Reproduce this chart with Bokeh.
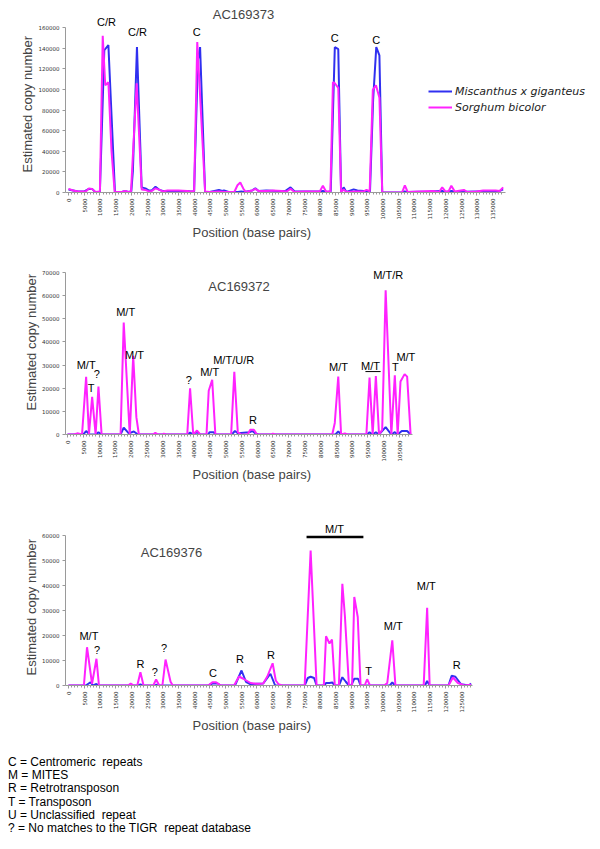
import math
from bokeh.plotting import figure
from bokeh.models import (FixedTicker, BasicTickFormatter, Label, Legend, LegendItem,
                          Range1d, Div, Title)
from bokeh.layouts import column
from bokeh.embed import file_html
from bokeh.resources import INLINE

# ---------------- DATA ----------------
# AC169373
pos_373_mis = [0, 1500, 3000, 5000, 6500, 7500, 8500, 10000, 11400, 12700, 14800, 17000, 18000, 19000,
               20000, 20500, 21800, 23300, 24500, 25500, 26500, 27700, 29000, 30000, 32000, 35000, 37800,
               38800, 40000, 41200, 41900, 43500, 45000, 47900, 49000, 49500, 51000, 54000, 55000, 56000,
               58500, 59500, 60500, 63000, 66000, 69000, 70700, 72000, 75000, 80000, 81000, 82500, 83500,
               84800, 85900, 86800, 87600, 88500, 90800, 92000, 94000, 95000, 96000, 97000, 98000, 99000,
               99900, 106000, 107000, 108000, 115000, 119000, 120000, 122000, 123000, 130000, 137000, 138400]
cn_373_mis = [3000, 2000, 1000, 1000, 3500, 3500, 500, 500, 138000, 143000, 0, 500, 1500, 500,
              1000, 21000, 141000, 5000, 4000, 2000, 2000, 5500, 2500, 1500, 1500, 1500, 1500,
              1000, 1000, 128000, 141000, 0, 500, 2500, 1500, 2000, 500, 500, 1000, 500,
              2000, 4000, 1500, 2000, 1500, 1500, 5000, 1000, 1000, 1000, 1500, 500, 1000,
              141000, 139000, 0, 5000, 500, 3000, 2000, 1500, 1500, 1000, 90000, 141000, 133000,
              0, 0, 1000, 500, 1000, 1500, 500, 1500, 500, 1000, 1000, 3000]
pos_373_sor = [0, 1500, 3000, 5500, 6500, 7500, 8500, 10000, 10900, 11700, 12700, 13700, 14700, 17000,
               18000, 19000, 19900, 21700, 23300, 24500, 25500, 26500, 27700, 29000, 30000, 31500, 35000,
               37800, 38800, 40000, 41000, 43500, 45000, 48000, 50000, 52800, 53800, 54700, 55800, 56500,
               58500, 59500, 60500, 63000, 65000, 68000, 69500, 70700, 72000, 75000, 78000, 80000, 81000,
               82000, 83400, 84200, 84800, 85900, 86800, 87600, 88500, 91000, 94000, 94900, 95900, 96900,
               97900, 99000, 99900, 106200, 107100, 108000, 112000, 116000, 118000, 119000, 120000, 121000,
               121900, 123000, 125900, 127000, 130000, 132000, 136000, 137300, 138400]
cn_373_sor = [3500, 2000, 1000, 1000, 4000, 3500, 500, 1000, 152000, 104000, 107000, 40000, 500, 500,
              1500, 500, 1000, 106000, 3000, 2500, 1000, 1500, 4000, 2500, 1000, 2000, 2000,
              1500, 1000, 1500, 146000, 1000, 500, 1000, 500, 500, 7000, 9700, 3000, 500,
              2000, 3500, 1500, 1500, 2000, 1500, 1000, 3500, 500, 1000, 1000, 1000, 6500,
              1000, 1000, 107000, 106000, 101500, 0, 3000, 500, 1000, 1000, 2500, 1000, 99600,
              104000, 92000, 0, 0, 7000, 500, 1000, 1500, 500, 5000, 1000, 1000,
              6500, 1000, 2500, 500, 1000, 2000, 2000, 1500, 5000]

# AC169372
pos_372_mis = [0, 5000, 5900, 7000, 9000, 9800, 10800, 16800, 17800, 19400, 21000, 22300, 38000, 38800,
               39800, 41000, 42000, 44500, 45000, 46200, 47000, 52000, 53000, 54000, 57500, 58500, 59500,
               60500, 84800, 85700, 86600, 94800, 95600, 96600, 97600, 98600, 100700, 102500, 103600,
               104500, 105800, 107500, 108600]
cn_372_mis = [0, 0, 1500, 0, 0, 1000, 0, 0, 3000, 500, 1300, 0, 0, 800,
              0, 1000, 0, 0, 1000, 1000, 0, 0, 1500, 500, 1000, 1500, 500,
              0, 0, 1300, 0, 0, 1000, 0, 1000, 0, 3200, 0, 1000,
              0, 1500, 1500, 0]
pos_372_sor = [0, 2000, 3100, 4600, 5900, 6800, 7800, 8900, 9800, 10800, 16800, 17800, 19700, 20800,
               21800, 22600, 27000, 27800, 28700, 30000, 30500, 31200, 37900, 38800, 39800, 41000, 42000,
               44000, 44700, 45800, 46800, 51800, 52800, 53900, 55000, 57000, 57800, 59000, 60000, 64500,
               65000, 65800, 83800, 84600, 85700, 86600, 87800, 88600, 94600, 95600, 96600, 97600, 98600,
               99600, 100700, 102500, 103600, 104500, 105400, 106700, 107500, 108600]
cn_372_sor = [0, 0, 500, 0, 24900, 0, 16300, 0, 20700, 0, 0, 48400, 0, 34000,
              7500, 0, 0, 700, 0, 0, 400, 0, 0, 20000, 0, 1700, 0,
              0, 18900, 23600, 0, 0, 27100, 1000, 0, 0, 2000, 2000, 0, 0,
              400, 0, 0, 5000, 25000, 0, 500, 0, 0, 24600, 0, 25300, 0,
              2000, 62300, 0, 25600, 0, 22900, 26100, 25000, 0]

# AC169376
pos_376_mis = [0, 5500, 7000, 7800, 8900, 9700, 22000, 22900, 23800, 27500, 27900, 28500, 44500, 45800,
               47500, 48500, 53000, 55100, 56500, 58000, 60000, 62000, 63300, 64300, 65800, 75200, 76200,
               77100, 78200, 79000, 81500, 82000, 83100, 84000, 84800, 86100, 87200, 88300, 89300, 90000,
               91000, 92200, 93000, 102300, 103100, 104000, 113500, 114200, 115000, 121000, 122000, 123200,
               125000, 127500, 128200]
cn_376_mis = [0, 0, 1300, 0, 600, 0, 0, 400, 0, 0, 300, 0, 0, 800,
              800, 0, 0, 6000, 1500, 500, 700, 800, 3000, 4700, 0, 0, 3000,
              3500, 3000, 0, 0, 1000, 1000, 1200, 0, 0, 3300, 1500, 0, 0,
              2700, 2700, 0, 0, 1200, 0, 0, 1800, 0, 0, 3900, 3500,
              500, 0, 800]
pos_376_sor = [0, 4900, 5900, 7500, 8900, 9700, 19000, 19800, 20800, 21900, 22900, 23900, 27000, 27900,
               28900, 29900, 30900, 32500, 33200, 44500, 45800, 47000, 48500, 52700, 54300, 55500, 58000,
               60000, 62000, 63300, 65000, 66000, 66900, 68000, 75200, 77100, 79000, 81300, 82000, 83100,
               83900, 84800, 86100, 87200, 88000, 89300, 90300, 91000, 92100, 93000, 94300, 95100, 96000,
               100500, 101500, 103100, 104100, 113100, 114200, 115000, 121000, 122400, 124000, 126000,
               128200]
cn_376_sor = [0, 0, 15300, 700, 10700, 0, 0, 800, 0, 0, 5300, 0, 0, 2400,
              0, 0, 10400, 1500, 0, 0, 1300, 1300, 0, 0, 3600, 2800, 1000,
              700, 800, 3600, 8900, 2000, 500, 0, 0, 54000, 0, 0, 19700, 16800,
              18400, 0, 0, 40700, 28000, 0, 0, 35400, 27400, 0, 0, 2500, 0,
              0, 1000, 18100, 0, 0, 31100, 0, 0, 3200, 1000, 0,
              300]

# annotations (text, position bp, copy-number level)
ann_373_text = ["C/R", "C/R", "C", "C", "C"]
ann_373_x = [12100, 22000, 40800, 84800, 98000]
ann_373_y = [165000, 156000, 156000, 150000, 148000]

ann_372_text = ["M/T", "T", "?", "M/T", "M/T", "?", "M/T", "M/T/U/R", "R", "M/T", "M/T", "M/T/R", "T", "M/T"]
ann_372_x = [5900, 7500, 9300, 18400, 21200, 38400, 45000, 52600, 58700, 85800, 95900, 101500, 103800, 107100]
ann_372_y = [30000, 20300, 26300, 53100, 34400, 23600, 27000, 32300, 6200, 29200, 29700, 68900, 29000, 33300]
underline_372_x0 = [94300]
underline_372_x1 = [99100]
underline_372_y = [27200]

ann_376_text = ["M/T", "?", "R", "?", "?", "C", "R", "R", "M/T", "T", "M/T", "M/T", "R"]
ann_376_x = [6500, 9100, 22900, 27500, 30400, 46000, 54600, 64500, 84700, 95600, 103400, 113900, 123600]
ann_376_y = [19700, 14400, 8500, 5400, 15200, 5200, 10500, 12100, 62800, 5800, 23700, 39800, 8100]
bar_376_x0 = [75800]
bar_376_x1 = [93900]
bar_376_y = [59400]

yticks_373 = [0, 20000, 40000, 60000, 80000, 100000, 120000, 140000, 160000]
yticks_372 = [0, 10000, 20000, 30000, 40000, 50000, 60000, 70000]
yticks_376 = [0, 10000, 20000, 30000, 40000, 50000, 60000]
xticks_373 = list(range(0, 140000, 5000))
xticks_372 = list(range(0, 110000, 5000))
xticks_376 = list(range(0, 130000, 5000))
xminor_373 = list(range(0, 139000, 1000))
xminor_372 = list(range(0, 109000, 1000))
xminor_376 = list(range(0, 129000, 1000))

series_names = ["Miscanthus x giganteus", "Sorghum bicolor"]
notes = ["C = Centromeric  repeats", "M = MITES", "R = Retrotransposon", "T = Transposon",
         "U = Unclassified  repeat", "? = No matches to the TIGR  repeat database"]

# ---------------- STYLE ----------------
BLUE = "#3030F0"
PINK = "#FF22FF"
FONT = "Liberation Sans"
W = 600


def make_panel(name, xr, xb, yr, yb, h, top, bottom, yticks, xticks, xminor,
               pm, cm, ps, cs, atext, ax, ay, name_xy, xlab_off, ylab_off):
    p = figure(width=W, height=h, x_range=Range1d(*xr), y_range=Range1d(*yr),
               output_backend="svg", toolbar_location=None,
               min_border_left=65, min_border_right=0, min_border_top=top,
               min_border_bottom=bottom)
    p.outline_line_color = None
    p.xgrid.visible = False
    p.ygrid.visible = False
    rb = p.line(pm, cm, line_color=BLUE, line_width=2)
    rp = p.line(ps, cs, line_color=PINK, line_width=2)
    for ax_ in (p.xaxis, p.yaxis):
        ax_.axis_line_color = "#9a9a9a"
        ax_.major_tick_line_color = "#9a9a9a"
        ax_.minor_tick_line_color = "#9a9a9a"
        ax_.major_tick_in = 0
        ax_.major_tick_out = 3
        ax_.minor_tick_in = 0
        ax_.minor_tick_out = 2
        ax_.major_label_text_font = "DejaVu Sans"
        ax_.major_label_text_font_size = "5.5px"
        ax_.major_label_text_color = "#333333"
        ax_.major_label_standoff = 3
    p.yaxis.bounds = yb
    p.xaxis.bounds = xb
    p.yaxis.ticker = FixedTicker(ticks=yticks)
    p.yaxis.formatter = BasicTickFormatter(use_scientific=False)
    p.yaxis.minor_tick_line_color = None
    p.xaxis.ticker = FixedTicker(ticks=xticks, minor_ticks=xminor)
    p.xaxis.formatter = BasicTickFormatter(use_scientific=False)
    p.xaxis.major_label_orientation = math.pi / 2
    for t, x, y in zip(atext, ax, ay):
        p.add_layout(Label(x=x, y=y, text=t, text_font=FONT, text_font_size="11px",
                           text_align="center", text_baseline="middle", text_color="#000000"))
    p.add_layout(Label(x=name_xy[0], y=name_xy[1], text=name, text_font=FONT,
                       text_font_size="13px", text_align="center", text_baseline="middle"))
    p.add_layout(Title(text="Position (base pairs)", text_font=FONT, text_font_size="13px",
                       text_font_style="normal", align="left", offset=xlab_off, standoff=1),
                 "below")
    p.add_layout(Title(text="Estimated copy number", text_font=FONT, text_font_size="13px",
                       text_font_style="normal", align="left", offset=ylab_off, standoff=2),
                 "left")
    return p, rb, rp


# panel 1: frame 65..600 px, 8..192 px
p1, rb1, rp1 = make_panel("AC169373", (-955, 169400), (-955, 139000), (0, 178500), (0, 160000),
                          245, 8, 53,
                          yticks_373, xticks_373, xminor_373,
                          pos_373_mis, cn_373_mis, pos_373_sor, cn_373_sor,
                          ann_373_text, ann_373_x, ann_373_y,
                          (55700, 172700), 127, 20)
legend = Legend(items=[LegendItem(label=series_names[0], renderers=[rb1]),
                       LegendItem(label=series_names[1], renderers=[rp1])],
                location=(363, 77), orientation="vertical")
legend.label_text_font = "DejaVu Sans"
legend.label_text_font_style = "italic"
legend.label_text_font_size = "11px"
legend.label_text_color = "#222222"
legend.glyph_width = 24
legend.glyph_height = 16
legend.label_height = 16
legend.label_standoff = 3
legend.padding = 0
legend.spacing = 0
legend.margin = 0
legend.border_line_alpha = 0
legend.background_fill_alpha = 0
p1.add_layout(legend, "center")

# panel 2: frame 65..600 px, 245..434 px
p2, rb2, rp2 = make_panel("AC169372", (-630, 168700), (-630, 109200), (0, 81700), (0, 70000),
                          239, 0, 50,
                          yticks_372, xticks_372, xminor_372,
                          pos_372_mis, cn_372_mis, pos_372_sor, cn_372_sor,
                          ann_372_text, ann_372_x, ann_372_y,
                          (54300, 63800), 127, 24)
p2.segment(x0=underline_372_x0, x1=underline_372_x1, y0=underline_372_y, y1=underline_372_y,
           line_color="#000000", line_width=1)

# panel 3: frame 65..600 px, 484..685 px
p3, rb3, rp3 = make_panel("AC169376", (-955, 169400), (-955, 128700), (0, 80400), (0, 60000),
                          256, 0, 55,
                          yticks_376, xticks_376, xminor_376,
                          pos_376_mis, cn_376_mis, pos_376_sor, cn_376_sor,
                          ann_376_text, ann_376_x, ann_376_y,
                          (32800, 53300), 127, 10)
p3.segment(x0=bar_376_x0, x1=bar_376_x1, y0=bar_376_y, y1=bar_376_y,
           line_color="#000000", line_width=2.5)

div = Div(text='<div style="padding-top:11px; padding-left:3px; font-family:\'Liberation Sans\', Arial, sans-serif; '
               'font-size:12px; line-height:13.2px; white-space:pre; color:#000;">'
               + "\n".join(notes) + '</div>', width=W, height=95)

layout = column(p1, p2, p3, div, spacing=0)
open("out.html", "w").write(file_html(layout, INLINE))
